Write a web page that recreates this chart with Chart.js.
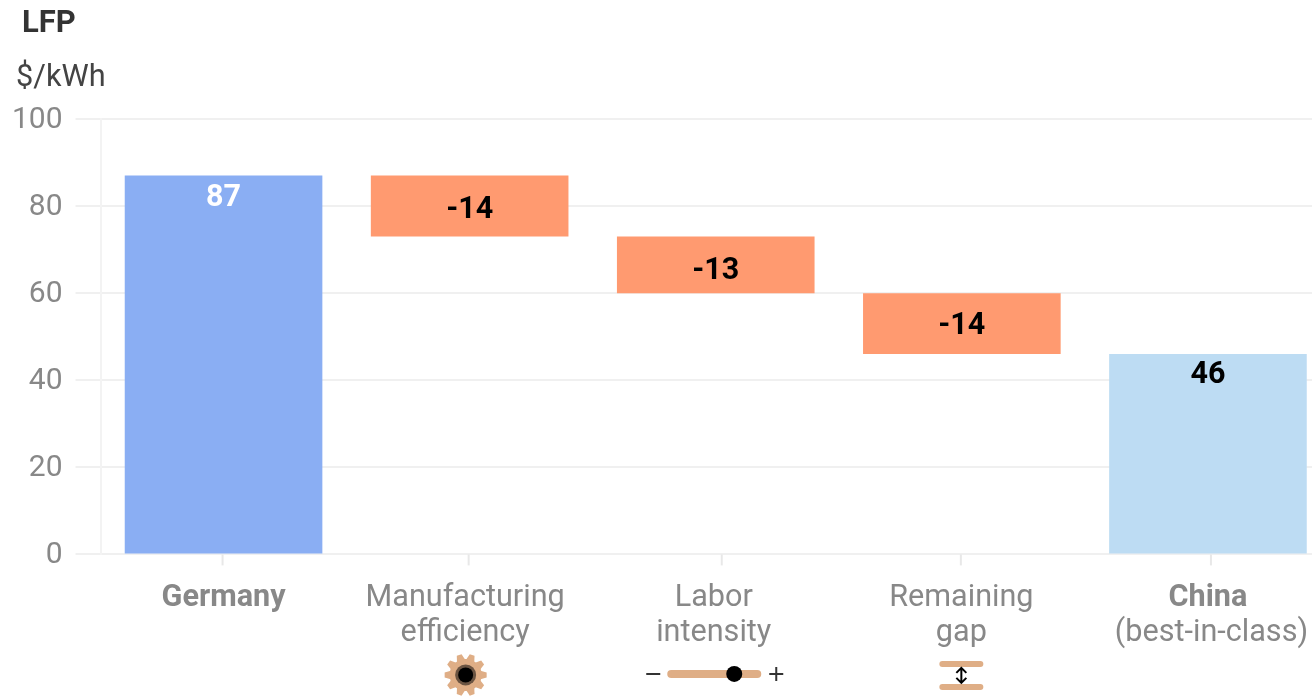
<!DOCTYPE html>
<html>
<head>
<meta charset="utf-8">
<style>
    html, body { margin: 0; padding: 0; background: #fff; overflow: hidden; width: 1312px; height: 696px; }
    canvas { display: block; }
</style>
<script src="https://cdn.jsdelivr.net/npm/chart.js@4"></script>
</head>
<body>
<canvas id="lfp" width="1340" height="696"></canvas>
<script>
// Data
const categorias = ["Germany", "Manufacturing efficiency", "Labor intensity", "Remaining gap", "China (best-in-class)"];
const desde = [0, 73, 60, 46, 0];
const hasta = [87, 87, 73, 60, 46];
const etiquetas = ["87", "-14", "-13", "-14", "46"];
const colores = ["#8aaef3", "#ff9a70", "#ff9a70", "#ff9a70", "#bddcf3"];
const colorEtiqueta = ["#ffffff", "#000000", "#000000", "#000000", "#000000"];
const marcasY = [0, 20, 40, 60, 80, 100];
// Each label line: text and weight
const lineasX = [
    [["Germany", "bold"]],
    [["Manufacturing", "normal"], ["efficiency", "normal"]],
    [["Labor", "normal"], ["intensity", "normal"]],
    [["Remaining", "normal"], ["gap", "normal"]],
    [["China", "bold"], ["(best-in-class)", "normal"]]
];
// The reference has its labels and ticks slightly off the bar centres
const ajusteTexto = [[0], [-4.5, -4.5], [-2, -2], [-0.5, -0.5], [0, 3.5]];
const ajusteMarca = [-1, -1, 6, -1, 3];
const ajusteValor = [23, 4, 6.5, 2.5, 21.5];

const fuente = "Roboto, sans-serif";
const cobre = "#dfae86";

function dibujarEngranaje(ctx, x, y) {
    ctx.fillStyle = cobre;
    ctx.beginPath();
    ctx.arc(x, y, 16, 0, Math.PI * 2);
    ctx.fill();
    for (let i = 0; i < 10; i++) {
        ctx.save();
        ctx.translate(x, y);
        ctx.rotate((i * Math.PI) / 5 + Math.PI / 2);
        ctx.beginPath();
        ctx.moveTo(-4.5, -14);
        ctx.lineTo(-2.5, -21);
        ctx.lineTo(2.5, -21);
        ctx.lineTo(4.5, -14);
        ctx.closePath();
        ctx.fill();
        ctx.restore();
    }
    ctx.fillStyle = "#6b5442";
    ctx.beginPath();
    ctx.arc(x, y, 10.5, 0, Math.PI * 2);
    ctx.fill();
    ctx.fillStyle = "#000";
    ctx.beginPath();
    ctx.arc(x, y, 7.5, 0, Math.PI * 2);
    ctx.fill();
}

function dibujarDeslizador(ctx, x, y) {
    ctx.strokeStyle = cobre;
    ctx.lineWidth = 8;
    ctx.lineCap = "round";
    ctx.beginPath();
    ctx.moveTo(x - 43, y);
    ctx.lineTo(x + 43, y);
    ctx.stroke();
    ctx.fillStyle = "#000";
    ctx.beginPath();
    ctx.arc(x + 20, y, 8, 0, Math.PI * 2);
    ctx.fill();
    ctx.strokeStyle = "#333";
    ctx.lineWidth = 2;
    ctx.lineCap = "butt";
    ctx.beginPath();
    ctx.moveTo(x - 68, y);
    ctx.lineTo(x - 54, y);
    ctx.moveTo(x + 55, y);
    ctx.lineTo(x + 69, y);
    ctx.moveTo(x + 62, y - 7);
    ctx.lineTo(x + 62, y + 7);
    ctx.stroke();
}

function dibujarBrecha(ctx, x, y) {
    ctx.strokeStyle = cobre;
    ctx.lineWidth = 6;
    ctx.lineCap = "round";
    ctx.beginPath();
    ctx.moveTo(x - 19, y - 11);
    ctx.lineTo(x + 19, y - 11);
    ctx.moveTo(x - 19, y + 12);
    ctx.lineTo(x + 19, y + 12);
    ctx.stroke();
    ctx.strokeStyle = "#000";
    ctx.lineWidth = 2;
    ctx.lineCap = "butt";
    ctx.beginPath();
    ctx.moveTo(x, y - 7);
    ctx.lineTo(x, y + 8);
    ctx.moveTo(x - 5, y - 2);
    ctx.lineTo(x, y - 7);
    ctx.lineTo(x + 5, y - 2);
    ctx.moveTo(x - 5, y + 3);
    ctx.lineTo(x, y + 8);
    ctx.lineTo(x + 5, y + 3);
    ctx.stroke();
}

const textos = {
    id: "textos",
    afterDatasetsDraw(chart) {
        const ctx = chart.ctx;
        const x = chart.scales.x;
        const y = chart.scales.y;
        const barras = chart.getDatasetMeta(0).data;
        ctx.save();
        // Values on the bars
        ctx.textAlign = "center";
        ctx.textBaseline = "middle";
        ctx.font = "bold 30.5px " + fuente;
        etiquetas.forEach((t, i) => {
            const arriba = y.getPixelForValue(hasta[i]);
            const abajo = y.getPixelForValue(desde[i]);
            // Waterfall steps centre the value, totals keep it near the top
            const base = desde[i] === 0 ? arriba : (arriba + abajo) / 2;
            ctx.fillStyle = colorEtiqueta[i];
            ctx.fillText(t, barras[i].x, base + ajusteValor[i]);
        });
        // Category ticks and labels
        lineasX.forEach((lineas, i) => {
            const px = x.getPixelForValue(i);
            ctx.strokeStyle = "#e8e8e8";
            ctx.lineWidth = 2;
            ctx.beginPath();
            ctx.moveTo(px + ajusteMarca[i], y.bottom);
            ctx.lineTo(px + ajusteMarca[i], y.bottom + 11);
            ctx.stroke();
            ctx.fillStyle = "#888888";
            lineas.forEach((l, n) => {
                ctx.font = l[1] + " 30.6px " + fuente;
                ctx.fillText(l[0], px + ajusteTexto[i][n], y.bottom + 43.5 + n * 35);
            });
        });
        // Small icons below the labels
        dibujarEngranaje(ctx, x.getPixelForValue(1) - 4, y.bottom + 120.5);
        dibujarDeslizador(ctx, x.getPixelForValue(2) - 1.5, y.bottom + 119.5);
        dibujarBrecha(ctx, x.getPixelForValue(3) - 0.5, y.bottom + 120.5);
        // Title and unit
        ctx.textAlign = "left";
        ctx.textBaseline = "alphabetic";
        ctx.fillStyle = "#333333";
        ctx.font = "bold 31px " + fuente;
        ctx.fillText("LFP", 22, 32);
        ctx.fillStyle = "#444444";
        ctx.font = "30.7px " + fuente;
        ctx.fillText("$/kWh", 16, 86);
        ctx.restore();
    }
};

new Chart(document.getElementById("lfp").getContext("2d"), {
    type: "bar",
    data: {
        labels: categorias,
        datasets: [
            {
                label: "LFP",
                data: categorias.map((c, i) => [desde[i], hasta[i]]),
                backgroundColor: colores,
                borderWidth: 0,
                categoryPercentage: 1,
                barPercentage: 0.803
            }
        ]
    },
    options: {
        responsive: false,
        animation: false,
        layout: {
            padding: { top: 119, right: 9, bottom: 0, left: 0 }
        },
        plugins: {
            legend: { display: false },
            title: { display: false },
            tooltip: { enabled: false }
        },
        scales: {
            x: {
                grid: { display: false },
                border: { display: false },
                ticks: { display: false },
                afterFit: (s) => { s.height = 141.6; }
            },
            y: {
                min: 0,
                max: 100,
                afterFit: (s) => { s.width = 100.5; },
                afterBuildTicks: (s) => { s.ticks = marcasY.map((v) => ({ value: v })); },
                grid: { color: "#f0f0f0", lineWidth: 2, tickLength: 25 },
                border: { display: true, color: "#f3f3f3", width: 2 },
                ticks: {
                    color: "#888888",
                    padding: 13,
                    labelOffset: 1.5,
                    font: { family: fuente, size: 30 }
                }
            }
        }
    },
    plugins: [textos]
});
</script>
</body>
</html>
